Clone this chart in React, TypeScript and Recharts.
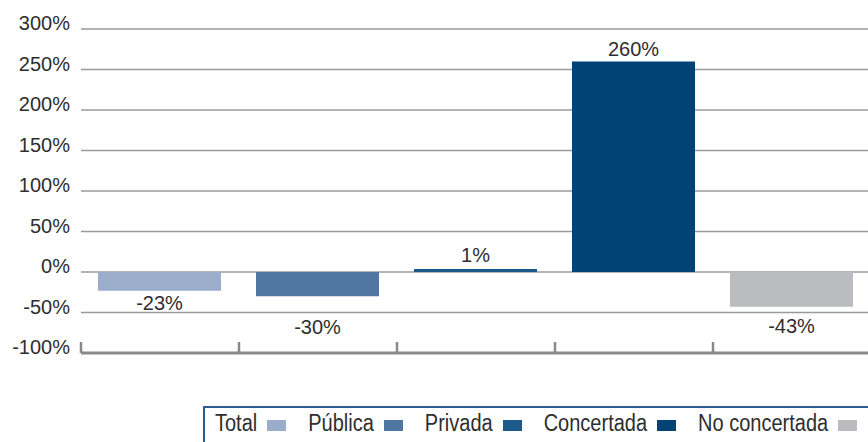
import React from 'react';
import {
  BarChart,
  Bar,
  XAxis,
  YAxis,
  CartesianGrid,
  Cell,
  LabelList
} from 'recharts';

// categories (legend order) and their variation in %
const categories = ['Total', 'Pública', 'Privada', 'Concertada', 'No concertada'];
const values = [-23, -30, 1, 260, -43];
const yTicks = [-100, -50, 0, 50, 100, 150, 200, 250, 300];

const colors = ['#9aaecb', '#4f77a2', '#1c5a8a', '#014375', '#bbbcc0'];
// distance from bar end to label baseline
const labelGap = [19, 38, 7, 5, 26];

const chartData = categories.map((name, i) => ({ name, pos: i + 0.5, value: values[i] }));

const textColor = '#2e2e2e';
const axisFont = '"Liberation Sans", Arial, sans-serif';

const YTick = (props: any) => {
  const { x, y, payload } = props;
  return (
    <text x={x} y={y} dy={1} textAnchor="end" fill={textColor} fontSize={20} fontFamily={axisFont}>
      {payload.value}%
    </text>
  );
};

const ValueLabel = (props: any) => {
  const { x, y, width, height, value, index } = props;
  const top = Math.min(y, y + height);
  const bottom = Math.max(y, y + height);
  const ty = value >= 0 ? top - labelGap[index] : bottom + labelGap[index];
  return (
    <text x={x + width / 2} y={ty} textAnchor="middle" fill={textColor} fontSize={20} fontFamily={axisFont}>
      {value}%
    </text>
  );
};

const App: React.FC = () => {
  return (
    <div style={{ position: 'absolute', left: 0, top: 0, width: 868, height: 442, overflow: 'hidden', background: '#fff' }}>
      <BarChart
        width={880}
        height={442}
        data={chartData}
        margin={{ top: 29, right: 9, left: 0, bottom: 89 }}
      >
        <CartesianGrid horizontal vertical={false} stroke="#9a9a9a" strokeWidth={1.5} />
        <XAxis
          type="number"
          dataKey="pos"
          domain={[0, 5]}
          ticks={[0, 1, 2, 3, 4, 5]}
          height={30}
          mirror
          tickSize={11}
          tickFormatter={() => ''}
          axisLine={{ stroke: '#8a8a8a', strokeWidth: 3 }}
          tickLine={{ stroke: '#8a8a8a', strokeWidth: 2.5 }}
        />
        <YAxis
          type="number"
          domain={[-100, 300]}
          ticks={yTicks}
          width={81}
          axisLine={false}
          tickLine={false}
          tickSize={0}
          tickMargin={11}
          tick={<YTick />}
        />
        <Bar dataKey="value" barSize={123} minPointSize={3} isAnimationActive={false}>
          {chartData.map((d, i) => (
            <Cell key={d.name} fill={colors[i]} />
          ))}
          <LabelList dataKey="value" content={<ValueLabel />} />
        </Bar>
      </BarChart>

      <div
        style={{
          position: 'absolute',
          left: 203,
          top: 406,
          width: 700,
          height: 50,
          borderLeft: '2px solid #2d5d8e',
          borderTop: '2px solid #2d5d8e',
          display: 'flex',
          alignItems: 'baseline',
          paddingLeft: 10,
          paddingTop: 5,
          boxSizing: 'border-box',
          fontFamily: axisFont,
          fontSize: 20,
          color: textColor,
          whiteSpace: 'nowrap'
        }}
      >
        {categories.map((name, i) => (
          <span key={name} style={{ display: 'inline-flex', alignItems: 'baseline', marginRight: 22 }}>
            <span style={{ display: 'inline-block', transform: 'scaleY(1.15)', transformOrigin: '50% 80%' }}>
              {name}
            </span>
            <span
              style={{
                display: 'inline-block',
                width: 19,
                height: 11,
                marginLeft: 10,
                backgroundColor: colors[i]
              }}
            />
          </span>
        ))}
      </div>
    </div>
  );
};

export default App;
